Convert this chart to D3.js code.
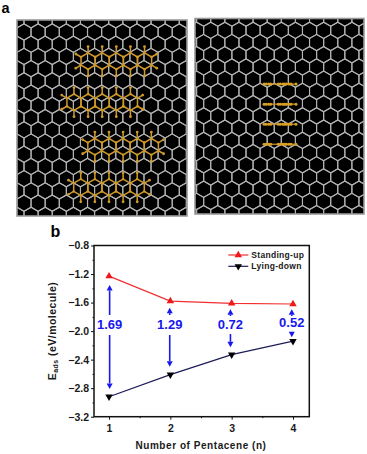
<!DOCTYPE html>
<html>
<head>
<meta charset="utf-8">
<script src="https://cdn.jsdelivr.net/npm/d3@7"></script>
<style>
html, body { margin: 0; padding: 0; background: #fff; }
svg { display: block; }
text { font-family: "Liberation Sans", Arial, sans-serif; font-weight: bold; }
</style>
</head>
<body>
<script>
// chart data
var pentacenes = [1, 2, 3, 4];
var standingUp = [-1.23, -1.58, -1.61, -1.62];
var lyingDown = [-2.92, -2.61, -2.33, -2.14];
var gapLabels = ["1.69", "1.29", "0.72", "0.52"];
var gapX = [1.01, 1.99, 2.98, 3.98];
var gapLabelY = [-1.914, -1.914, -1.914, -1.887];
var upTip = [-1.354, -1.672, -1.694, -1.694];
var upTail = [-1.774, -1.774, -1.788, -1.788];
var downTail = [-2.055, -2.055, -2.04, -2.008];
var downTip = [-2.81, -2.50, -2.227, -2.087];
var yTicks = [-0.8, -1.2, -1.6, -2.0, -2.4, -2.8, -3.2];
var yMinor = [-1.0, -1.4, -1.8, -2.2, -2.6, -3.0];
var xMinor = [1.5, 2.5, 3.5];

// schematic in panel a, in lattice cells
var flatMolecules = [[6.54, 2.38], [5.54, 5.74], [7.02, 9.38], [6.02, 12.7]];
var sideMolecules = [4.4, 6.04, 7.68, 9.32];
var sideAtoms = [-5.5, -4.8, -3.9, -3.2, -0.6, 0.1, 1.0, 1.6, 2.2, 3.1, 3.8, 5.5];

var svg = d3.select("body").append("svg").attr("width", 367).attr("height", 454);
var defs = svg.append("defs");
defs.append("filter").attr("id", "soft")
    .append("feGaussianBlur").attr("stdDeviation", 0.35);

var hexA = 8.15, hexW = Math.sqrt(3) * hexA, rowH = 1.5 * hexA;
var gold = "#cf9a2c";

function hexPoints(cx, cy) {
    return d3.range(6).map(function (i) {
        var t = Math.PI / 3 * i + Math.PI / 6;
        return [cx + hexA * Math.cos(t), cy + hexA * Math.sin(t)];
    });
}

function drawPanel(id, x0, y0, w, h, originX, originY) {
    var g = svg.append("g");
    g.append("rect").attr("x", x0).attr("y", y0).attr("width", w).attr("height", h).attr("fill", "#000");
    defs.append("clipPath").attr("id", id).append("rect")
        .attr("x", x0).attr("y", y0).attr("width", w).attr("height", h);
    var lat = g.append("g").attr("clip-path", "url(#" + id + ")").attr("filter", "url(#soft)");
    var cellX = d3.scaleLinear().domain([0, 1]).range([originX, originX + hexW]);
    var cellY = d3.scaleLinear().domain([0, 1]).range([originY, originY + rowH]);
    var cells = [];
    d3.range(-1, 18).forEach(function (r) {
        d3.range(-1, 14).forEach(function (c) {
            cells.push([cellX(c + (r % 2 ? 0.5 : 0)), cellY(r)]);
        });
    });
    lat.selectAll("path.hex").data(cells).enter().append("path")
        .attr("class", "hex")
        .attr("d", function (d) { return d3.line().curve(d3.curveLinearClosed)(hexPoints(d[0], d[1])); })
        .attr("fill", "none").attr("stroke", "#b2b2b2").attr("stroke-width", 1.1);
    g.append("rect").attr("x", x0).attr("y", y0).attr("width", w).attr("height", h)
        .attr("fill", "none").attr("stroke", "#9a9a9a").attr("stroke-width", 1.6);
    return { g: lat, cellX: cellX, cellY: cellY };
}

function drawFlatMolecule(p, m) {
    var g = p.g.append("g");
    var cy = p.cellY(m[1]);
    var centers = d3.range(-2, 3).map(function (k) { return p.cellX(m[0] + k); });
    var bonds = [], hAtoms = [], cAtoms = [];
    centers.forEach(function (cx, k) {
        var pts = hexPoints(cx, cy);
        pts.forEach(function (q, i) {
            bonds.push([q, pts[(i + 1) % 6]]);
            cAtoms.push(q);
        });
        bonds.push([[cx, cy - hexA], [cx, cy - hexA - 6.4]]);
        bonds.push([[cx, cy + hexA], [cx, cy + hexA + 6.4]]);
        hAtoms.push([cx, cy - hexA - 6.4], [cx, cy + hexA + 6.4]);
    });
    [[centers[0], -1], [centers[4], 1]].forEach(function (e) {
        [-1, 1].forEach(function (s) {
            var a = [e[0] + e[1] * hexW / 2, cy + s * hexA / 2];
            var b = [a[0] + e[1] * 5.2, a[1] + s * 3];
            bonds.push([a, b]);
            hAtoms.push(b);
        });
    });
    g.selectAll("line").data(bonds).enter().append("line")
        .attr("x1", function (d) { return d[0][0]; }).attr("y1", function (d) { return d[0][1]; })
        .attr("x2", function (d) { return d[1][0]; }).attr("y2", function (d) { return d[1][1]; })
        .attr("stroke", gold).attr("stroke-width", 1.5);
    g.selectAll("circle.h").data(hAtoms).enter().append("circle").attr("class", "h")
        .attr("cx", function (d) { return d[0]; }).attr("cy", function (d) { return d[1]; })
        .attr("r", 1.4).attr("fill", gold);
    g.selectAll("circle.c").data(cAtoms).enter().append("circle").attr("class", "c")
        .attr("cx", function (d) { return d[0]; }).attr("cy", function (d) { return d[1]; })
        .attr("r", 1.2).attr("fill", gold);
}

function drawSideMolecule(p, row, midCol) {
    var g = p.g.append("g");
    var cy = p.cellY(row);
    var xs = d3.scaleLinear().domain([-1, 1]).range([p.cellX(midCol) - 2.9, p.cellX(midCol) + 2.9]);
    g.append("line").attr("x1", xs(-5.5)).attr("x2", xs(5.5)).attr("y1", cy).attr("y2", cy)
        .attr("stroke", gold).attr("stroke-width", 1.2);
    g.selectAll("circle").data(sideAtoms).enter().append("circle")
        .attr("cx", function (d) { return xs(d); }).attr("cy", cy).attr("r", 1.5).attr("fill", "#d9a024");
}

var left = drawPanel("clipL", 17, 20, 170, 196, 24, 32);
flatMolecules.forEach(function (m) { drawFlatMolecule(left, m); });
var right = drawPanel("clipR", 195, 18.5, 169, 195.5, 196.6, 30.3);
sideMolecules.forEach(function (r) { drawSideMolecule(right, r, 5.91); });

svg.append("text").attr("x", 1.5).attr("y", 13).attr("font-size", 14.5).text("a");
svg.append("text").attr("x", 50.5).attr("y", 237).attr("font-size", 16).text("b");

// panel b
var x = d3.scaleLinear().domain([0.755, 4.266]).range([94, 309.3]);
var y = d3.scaleLinear().domain([-3.2, -0.8]).range([416.7, 245.5]);
var chart = svg.append("g");

chart.append("g").attr("transform", "translate(94,0)")
    .call(d3.axisLeft(y).tickValues(yTicks).tickSize(3).tickPadding(2).tickFormat(d3.format(".1f")))
    .call(styleAxis);
chart.append("g").attr("transform", "translate(94,0)")
    .call(d3.axisLeft(y).tickValues(yMinor).tickSize(1.5).tickFormat(""))
    .call(styleAxis);
chart.append("g").attr("transform", "translate(0,416.7)")
    .call(d3.axisBottom(x).tickValues(pentacenes).tickSize(3).tickPadding(5).tickFormat(d3.format("d")))
    .call(styleAxis);
chart.append("g").attr("transform", "translate(0,416.7)")
    .call(d3.axisBottom(x).tickValues(xMinor).tickSize(1.5).tickFormat(""))
    .call(styleAxis);

function styleAxis(sel) {
    sel.select(".domain").remove();
    sel.selectAll(".tick line").attr("stroke", "#111").attr("stroke-width", 1);
    sel.selectAll(".tick text").attr("font-size", 10.5).attr("fill", "#1a1a1a")
        .attr("font-family", "Liberation Sans").attr("font-weight", "bold");
}

chart.append("rect").attr("x", 94).attr("y", 245.5).attr("width", 215.3).attr("height", 171.2)
    .attr("fill", "none").attr("stroke", "#111").attr("stroke-width", 1.5);

var line = d3.line().x(function (d, i) { return x(pentacenes[i]); }).y(function (d) { return y(d); });
var tri = d3.symbol().type(d3.symbolTriangle).size(24);

function drawSeries(values, stroke, fill, down) {
    chart.append("path").datum(values).attr("d", line)
        .attr("fill", "none").attr("stroke", stroke).attr("stroke-width", 1.2);
    chart.selectAll(null).data(values).enter().append("path")
        .attr("d", tri)
        .attr("fill", fill)
        .attr("transform", function (d, i) {
            return "translate(" + x(pentacenes[i]) + "," + y(d) + ")" + (down ? " rotate(180)" : "");
        });
}
drawSeries(standingUp, "#f03030", "#f01818", false);
drawSeries(lyingDown, "#1c1c58", "#000", true);

// blue gap arrows
var blue = "#1818ee";
function gapArrow(px, tail, tip) {
    var dir = tip > tail ? 1 : -1;
    var baseY = tip - dir * 5.5;
    if ((dir > 0 && baseY > tail) || (dir < 0 && baseY < tail)) {
        chart.append("line").attr("x1", px).attr("x2", px).attr("y1", tail).attr("y2", baseY)
            .attr("stroke", blue).attr("stroke-width", 1.6);
    }
    chart.append("path")
        .attr("d", d3.line()([[px - 3, baseY], [px + 3, baseY], [px, tip]]) + "Z")
        .attr("fill", blue);
}
gapLabels.forEach(function (label, i) {
    var px = x(gapX[i]);
    gapArrow(px, y(upTail[i]), y(upTip[i]));
    gapArrow(px, y(downTail[i]), y(downTip[i]));
    chart.append("text").attr("x", px).attr("y", y(gapLabelY[i]) + 0.5)
        .attr("text-anchor", "middle").attr("dominant-baseline", "middle")
        .attr("font-size", 13).attr("fill", blue).text(label);
});

// legend
var legend = [["Standing-up", "#f03030", "#f01818", false, 255], ["Lying-down", "#1c1c58", "#000", true, 266.3]];
legend.forEach(function (d) {
    chart.append("line").attr("x1", 228.3).attr("x2", 248.3).attr("y1", d[4]).attr("y2", d[4])
        .attr("stroke", d[1]).attr("stroke-width", 1.2);
    chart.append("path").attr("d", tri).attr("fill", d[2])
        .attr("transform", "translate(238.3," + d[4] + ")" + (d[3] ? " rotate(180)" : ""));
    chart.append("text").attr("x", 251.3).attr("y", d[4] + 3).attr("font-size", 8.5)
        .attr("letter-spacing", 0.3).attr("fill", "#1a1a1a").text(d[0]);
});

// axis titles
chart.append("text").attr("x", 201).attr("y", 449).attr("text-anchor", "middle")
    .attr("font-size", 10).attr("letter-spacing", 0.55).attr("fill", "#1a1a1a")
    .text("Number of Pentacene (n)");
var yTitle = chart.append("text").attr("transform", "translate(56,331) rotate(-90)")
    .attr("text-anchor", "middle").attr("font-size", 10.5).attr("letter-spacing", 0.45).attr("fill", "#1a1a1a");
yTitle.append("tspan").text("E");
yTitle.append("tspan").attr("font-size", 7).attr("dy", 2).text("ads");
yTitle.append("tspan").attr("dy", -2).text(" (eV/molecule)");
</script>
</body>
</html>
